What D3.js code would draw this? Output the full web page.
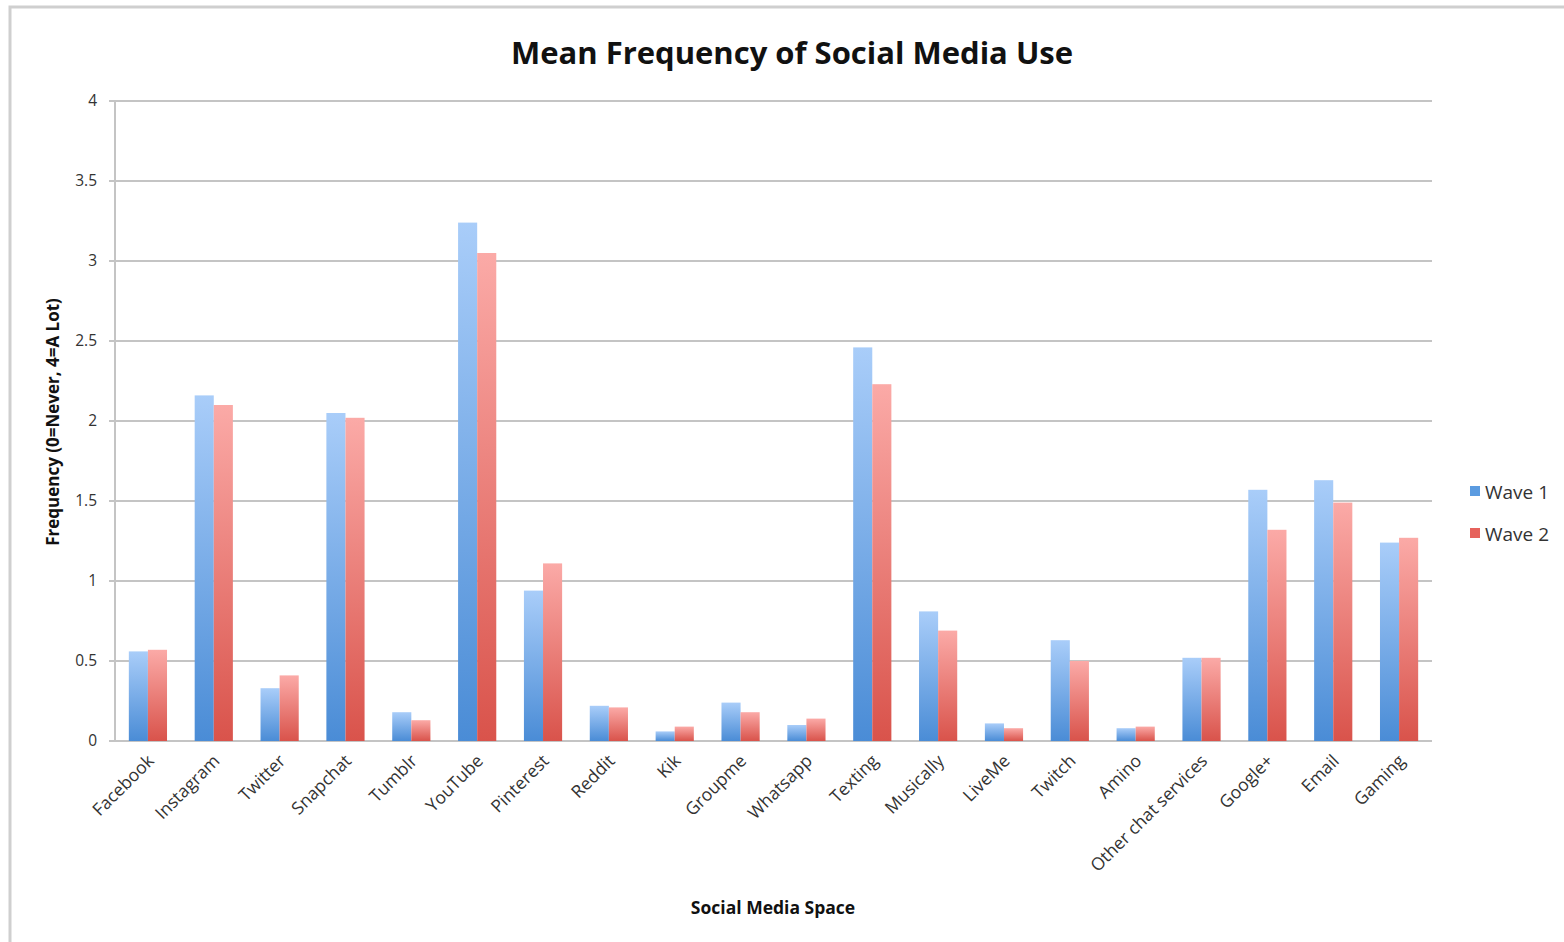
<!DOCTYPE html>
<html><head><meta charset="utf-8">
<script src="https://cdn.jsdelivr.net/npm/d3@7"></script>
<style>body{margin:0;background:#fff}svg{display:block}text{font-family:"Open Sans",sans-serif}</style>
</head><body><svg id="c" width="1564" height="942"></svg>
<script>
const categories = ["Facebook","Instagram","Twitter","Snapchat","Tumblr","YouTube","Pinterest","Reddit","Kik","Groupme","Whatsapp","Texting","Musically","LiveMe","Twitch","Amino","Other chat services","Google+","Email","Gaming"];
const wave1 = [0.56,2.16,0.33,2.05,0.18,3.24,0.94,0.22,0.06,0.24,0.10,2.46,0.81,0.11,0.63,0.08,0.52,1.57,1.63,1.24];
const wave2 = [0.57,2.10,0.41,2.02,0.13,3.05,1.11,0.21,0.09,0.18,0.14,2.23,0.69,0.08,0.50,0.09,0.52,1.32,1.49,1.27];
const seriesNames = ["Wave 1","Wave 2"];
const yTicks = [0,0.5,1,1.5,2,2.5,3,3.5,4];
const yTickLabels = ["0","0.5","1","1.5","2","2.5","3","3.5","4"];

const svg = d3.select("#c");
const defs = svg.append("defs");
const grads = [["gBlue","#a9cdf9","#4a8cd6"],["gRed","#fbaaa7","#d9534b"]];
grads.forEach(([id,top,bot])=>{
  const g = defs.append("linearGradient").attr("id",id).attr("x1",0).attr("y1",0).attr("x2",0).attr("y2",1);
  g.append("stop").attr("offset","0%").attr("stop-color",top);
  g.append("stop").attr("offset","100%").attr("stop-color",bot);
});
const legendCols = ["#5b9be0","#e6625c"];

// outer frame
svg.append("path").attr("d","M10,945 L10,7 L1570,7").attr("fill","none").attr("stroke","#cfcfcf").attr("stroke-width",3);

const L=115,R=1432,T=101,B=741;
const x = d3.scaleBand().domain(categories).range([L,R]).paddingInner(0.42).paddingOuter(0.21);
const xs = d3.scaleBand().domain(seriesNames).range([0,x.bandwidth()]);
const y = d3.scaleLinear().domain([0,4]).range([B,T]);

// gridlines
svg.append("g").selectAll("line").data(yTicks).join("line")
  .attr("x1",L-6).attr("x2",R).attr("y1",d=>y(d)).attr("y2",d=>y(d))
  .attr("stroke","#c4c4c4").attr("stroke-width",2);
svg.append("line").attr("x1",L).attr("x2",L).attr("y1",T).attr("y2",B).attr("stroke","#c4c4c4").attr("stroke-width",2);

// y tick labels
svg.append("g").selectAll("text").data(yTicks).join("text")
  .attr("x",97).attr("y",d=>y(d)+5).attr("text-anchor","end")
  .attr("font-size",15.5).attr("fill","#333").text((d,i)=>yTickLabels[i]);

// bars
const series=[wave1,wave2];
const gb = svg.append("g");
series.forEach((vals,si)=>{
  gb.selectAll(null).data(categories).join("rect")
    .attr("x",d=>x(d)+xs(seriesNames[si]))
    .attr("width",xs.bandwidth())
    .attr("y",(d,i)=>y(vals[i]))
    .attr("height",(d,i)=>B-y(vals[i]))
    .attr("fill",si===0?"url(#gBlue)":"url(#gRed)");
});

// x labels
svg.append("g").selectAll("text").data(categories).join("text")
  .attr("transform",d=>`translate(${x(d)+x.bandwidth()/2+7},762) rotate(-45)`)
  .attr("text-anchor","end").attr("font-size",17.5).attr("fill","#333").text(d=>d);

// title
svg.append("text").attr("x",792).attr("y",64).attr("text-anchor","middle")
  .attr("font-size",31).attr("font-weight","bold").attr("fill","#111").text("Mean Frequency of Social Media Use");
// axis titles
svg.append("text").attr("x",773).attr("y",914).attr("text-anchor","middle")
  .attr("font-size",17.5).attr("font-weight","bold").attr("fill","#111").text("Social Media Space");
svg.append("text").attr("transform","translate(59,422) rotate(-90)").attr("text-anchor","middle")
  .attr("font-size",17).attr("font-weight","bold").attr("fill","#111").text("Frequency (0=Never, 4=A Lot)");

// legend
const lg = svg.append("g");
seriesNames.forEach((n,i)=>{
  lg.append("rect").attr("x",1470).attr("y",486+i*42).attr("width",10).attr("height",10).attr("fill",legendCols[i]);
  lg.append("text").attr("x",1485).attr("y",499+i*42).attr("font-size",19).attr("fill","#333").text(n);
});
</script></body></html>
